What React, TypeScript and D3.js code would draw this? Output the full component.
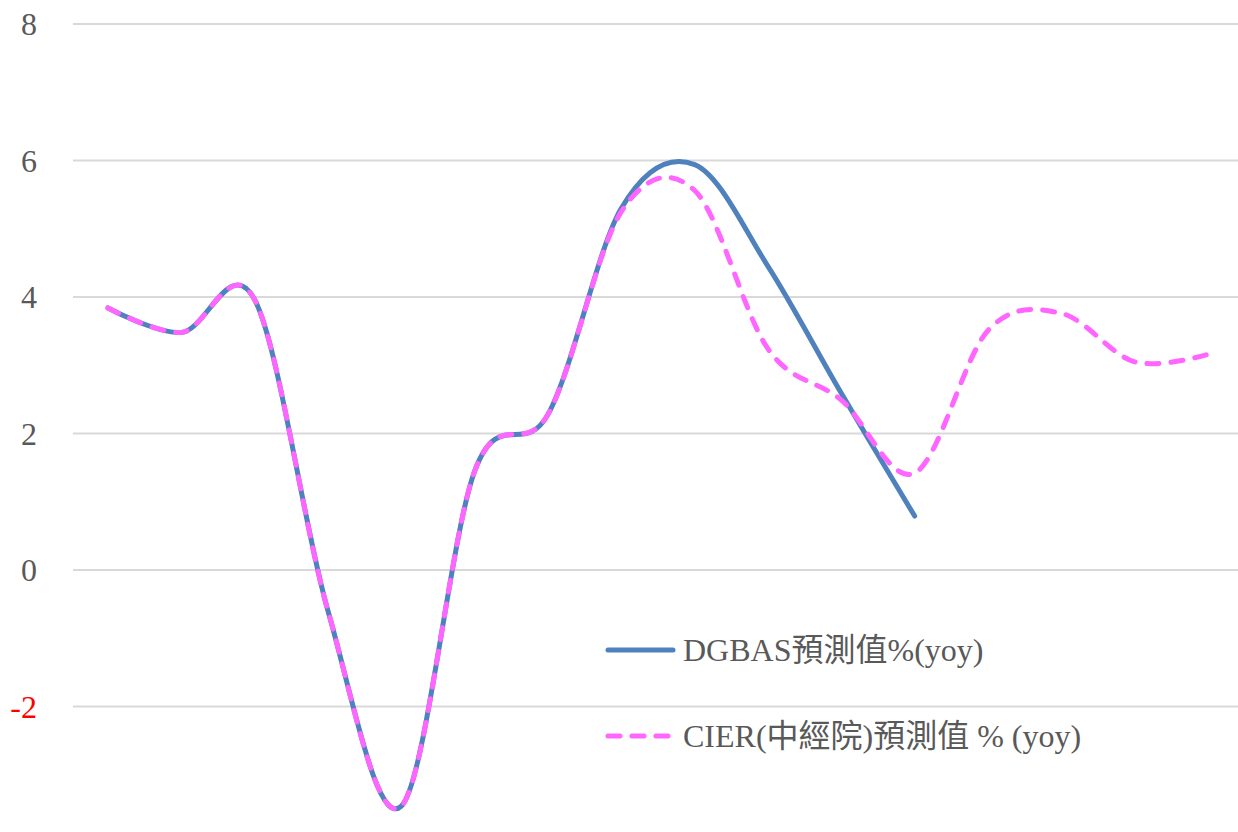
import React, { useRef, useEffect } from 'react';
import * as d3 from 'd3';

// 期間(横軸ラベルは元図に表示なし)
const periods = ['1', '2', '3', '4', '5', '6', '7', '8', '9', '10', '11', '12', '13', '14', '15', '16'];
// DGBAS 預測值
const dgbasValues = [3.84, 3.48, 3.96, -0.6, -3.46, 1.45, 2.28, 5.3, 5.94, 4.45, 2.59, 0.79];
// CIER 預測值
const cierValues = [3.84, 3.48, 3.96, -0.6, -3.46, 1.45, 2.28, 5.25, 5.56, 3.24, 2.49, 1.42, 3.51, 3.76, 3.05, 3.16];
const yTicks = [8, 6, 4, 2, 0, -2, -4];
const legendLabels = ['DGBAS預測值%(yoy)', 'CIER(中經院)預測值 % (yoy)'];

const W = 1238;
const H = 832;
const FONT = '"Liberation Serif", "Times New Roman", serif, "Noto Sans CJK TC"';

export default function App() {
  const svgRef = useRef<SVGSVGElement>(null);

  useEffect(() => {
    const svg = d3.select(svgRef.current);
    svg.selectAll('*').remove();

    const x = d3.scalePoint<string>().domain(periods).range([108, 1208]);
    const y = d3.scaleLinear().domain([0, 8]).range([570, 24]);

    // グリッド線
    svg.append('g')
      .selectAll('line')
      .data(yTicks)
      .enter()
      .append('line')
      .attr('x1', 73)
      .attr('x2', W)
      .attr('y1', d => y(d))
      .attr('y2', d => y(d))
      .attr('stroke', '#d9d9d9')
      .attr('stroke-width', 2);

    // 目盛りラベル(-4 は元図でも下端で切れている)
    svg.append('g')
      .selectAll('text')
      .data(yTicks)
      .enter()
      .append('text')
      .attr('x', 37)
      .attr('y', d => y(d))
      .attr('dy', '0.35em')
      .attr('text-anchor', 'end')
      .attr('font-family', FONT)
      .attr('font-size', 32)
      .attr('fill', d => (d < 0 ? '#ff0000' : '#595959'))
      .text(d => d);

    const line = d3.line<number>()
      .x((_, i) => x(periods[i]) as number)
      .y(d => y(d))
      .curve(d3.curveCardinal.tension(0));

    svg.append('path')
      .attr('d', line(dgbasValues))
      .attr('fill', 'none')
      .attr('stroke', '#4f81bd')
      .attr('stroke-width', 5)
      .attr('stroke-linecap', 'round')
      .attr('stroke-linejoin', 'round');

    svg.append('path')
      .attr('d', line(cierValues))
      .attr('fill', 'none')
      .attr('stroke', '#ff66ff')
      .attr('stroke-width', 5)
      .attr('stroke-dasharray', '12 12')
      .attr('stroke-linecap', 'round')
      .attr('stroke-linejoin', 'round');

    // 凡例
    const legend = svg.append('g');
    legend.append('line')
      .attr('x1', 608).attr('x2', 673)
      .attr('y1', 650).attr('y2', 650)
      .attr('stroke', '#4f81bd')
      .attr('stroke-width', 5)
      .attr('stroke-linecap', 'round');
    legend.append('line')
      .attr('x1', 608).attr('x2', 673)
      .attr('y1', 736).attr('y2', 736)
      .attr('stroke', '#ff66ff')
      .attr('stroke-width', 5)
      .attr('stroke-dasharray', '12 12')
      .attr('stroke-linecap', 'round');
    legend.selectAll('text')
      .data(legendLabels)
      .enter()
      .append('text')
      .attr('x', 683)
      .attr('y', (_, i) => 650 + i * 86)
      .attr('dy', '0.35em')
      .attr('font-family', FONT)
      .attr('font-size', 32)
      .attr('fill', '#595959')
      .text(d => d);
  }, []);

  return (
    <div style={{ position: 'absolute', left: 0, top: 0, width: W, height: H, background: '#fff', overflow: 'hidden' }}>
      <svg ref={svgRef} width={W} height={H}></svg>
    </div>
  );
}
